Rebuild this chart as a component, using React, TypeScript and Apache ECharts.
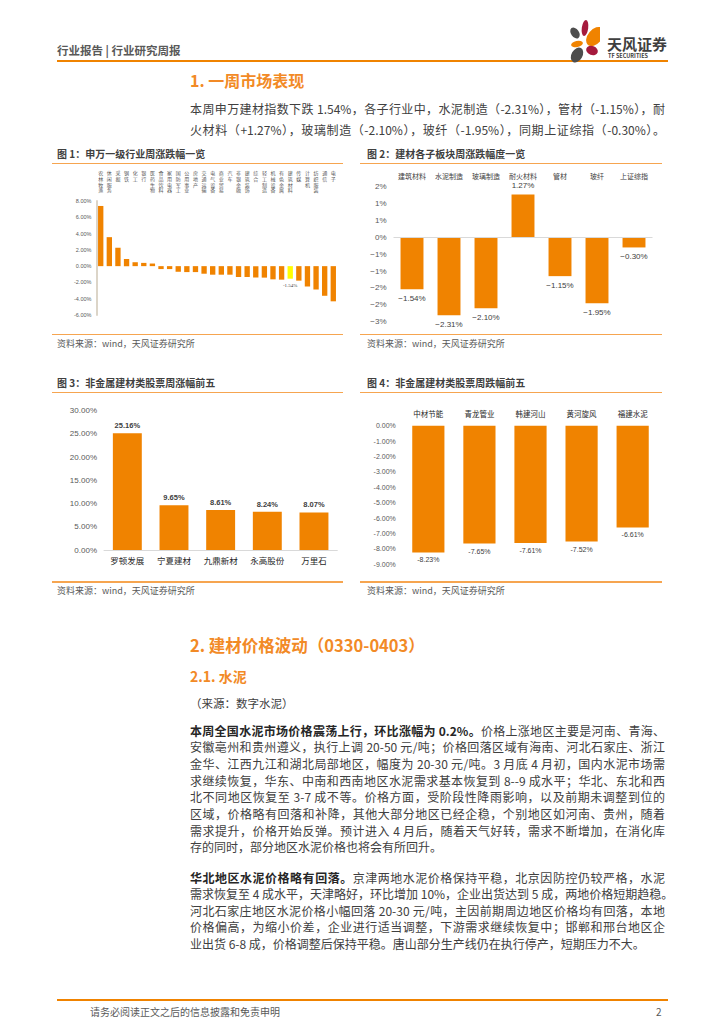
import React, { useEffect, useRef } from "react";
import * as echarts from "echarts";

// ---------- DATA ----------
const fig1Categories = [
  "农林牧渔", "休闲服务", "采掘", "钢铁", "化工", "银行", "医药生物", "食品饮料",
  "家用电器", "国防军工", "公用事业", "房地产", "交通运输", "电气设备", "商业贸易", "汽车",
  "非银金融", "建筑装饰", "综合", "轻工制造", "机械设备", "有色金属", "建筑材料", "传媒",
  "计算机", "纺织服装", "通信", "电子",
];
const fig1Values = [
  7.39, 3.56, 2.26, 0.89, 0.48, 0.4, 0.32, -0.36,
  -0.36, -0.69, -0.73, -0.73, -0.93, -1.05, -1.05, -1.05,
  -1.33, -1.33, -1.41, -1.41, -1.62, -1.66, -1.54, -1.78,
  -2.5, -2.87, -3.64, -4.32,
];
const fig1Highlight = "建筑材料";
const fig1Ticks = { min: -6, max: 8, interval: 2 };

const fig2Categories = ["建筑材料", "水泥制造", "玻璃制造", "耐火材料", "管材", "玻纤", "上证综指"];
const fig2Values = [-1.54, -2.31, -2.1, 1.27, -1.15, -1.95, -0.3];
const fig2Ticks = { min: -2.5, max: 1.5, interval: 0.5 };

const fig3Categories = ["罗顿发展", "宁夏建材", "九鼎新材", "永高股份", "万里石"];
const fig3Values = [25.16, 9.65, 8.61, 8.24, 8.07];
const fig3Ticks = { min: 0, max: 30, interval: 5 };

const fig4Categories = ["中材节能", "青龙管业", "韩建河山", "黄河旋风", "福建水泥"];
const fig4Values = [-8.23, -7.65, -7.61, -7.52, -6.61];
const fig4Ticks = { min: -9, max: 0, interval: 1 };

// ---------- TEXT ----------
const para1Lines = [
  "本周申万建材指数下跌 1.54%，各子行业中，水泥制造（-2.31%），管材（-1.15%），耐",
  "火材料（+1.27%），玻璃制造（-2.10%），玻纤（-1.95%），同期上证综指（-0.30%）。",
];
const cementP1Bold = "本周全国水泥市场价格震荡上行，环比涨幅为 0.2%。";
const cementP1Lines = [
  "价格上涨地区主要是河南、青海、",
  "安徽亳州和贵州遵义，执行上调 20-50 元/吨；价格回落区域有海南、河北石家庄、浙江",
  "金华、江西九江和湖北局部地区，幅度为 20-30 元/吨。3 月底 4 月初，国内水泥市场需",
  "求继续恢复，华东、中南和西南地区水泥需求基本恢复到 8--9 成水平；华北、东北和西",
  "北不同地区恢复至 3-7 成不等。价格方面，受阶段性降雨影响，以及前期未调整到位的",
  "区域，价格略有回落和补降，其他大部分地区已经企稳，个别地区如河南、贵州，随着",
  "需求提升，价格开始反弹。预计进入 4 月后，随着天气好转，需求不断增加，在消化库",
  "存的同时，部分地区水泥价格也将会有所回升。",
];
const cementP2Bold = "华北地区水泥价格略有回落。";
const cementP2Lines = [
  "京津两地水泥价格保持平稳，北京因防控仍较严格，水泥",
  "需求恢复至 4 成水平，天津略好，环比增加 10%，企业出货达到 5 成，两地价格短期趋稳。",
  "河北石家庄地区水泥价格小幅回落 20-30 元/吨，主因前期周边地区价格均有回落，本地",
  "价格偏高，为缩小价差，企业进行适当调整，下游需求继续恢复中；邯郸和邢台地区企",
  "业出货 6-8 成，价格调整后保持平稳。唐山部分生产线仍在执行停产，短期压力不大。",
];

const ORANGE = "#F08300";
const LIGHT_ORANGE = "#F6A550";
const HEAD_ORANGE = "#F28A26";
const TEXT = "#404040";
const CJK = '"Noto Sans CJK SC", "Noto Sans", sans-serif';
const CHART_FONT = '"Liberation Sans", Arial, "Noto Sans CJK SC", sans-serif';

const pct2 = (v: number) => v.toFixed(2) + "%";
const minus = (v: number) => (v < 0 ? "\u2212" : "");

function Txt(props: {
  x: number; y: number; size: number; text?: string; bold?: boolean; color?: string;
  width?: number; justify?: boolean; children?: any; lh?: number;
}) {
  const lh = props.lh ?? Math.round(props.size * 1.4);
  return (
    <div
      style={{
        position: "absolute",
        left: props.x,
        top: props.y - lh / 2,
        height: lh,
        lineHeight: lh + "px",
        fontSize: props.size,
        fontWeight: props.bold ? 700 : 400,
        color: props.color ?? TEXT,
        fontFamily: CJK,
        width: props.width,
        whiteSpace: "nowrap",
        textAlign: props.justify ? "justify" : "left",
        textAlignLast: props.justify ? "justify" : "auto",
        zIndex: 2,
      } as any}
    >
      {props.children ?? props.text}
    </div>
  );
}

function HLine(props: { x: number; y: number; w: number; h: number; color: string }) {
  return (
    <div
      style={{
        position: "absolute", left: props.x, top: props.y, width: props.w, height: props.h,
        background: props.color, zIndex: 2,
      }}
    />
  );
}

export default function App() {
  const ref = useRef<HTMLDivElement>(null);

  useEffect(() => {
    if (!ref.current) return;
    const chart = echarts.init(ref.current, undefined, { renderer: "svg" });

    const fig1Data = fig1Values.map((v, i) => {
      const hl = fig1Categories[i] === fig1Highlight;
      return {
        value: v,
        itemStyle: { color: hl ? "#FFFF00" : ORANGE },
        label: hl
          ? { show: true, position: "bottom", distance: 4, fontSize: 5, color: "#404040", fontFamily: "serif", formatter: (p: any) => pct2(p.value) }
          : { show: false },
      };
    });

    const fig2Data = fig2Values.map((v) => ({
      value: v,
      label: {
        show: true,
        position: v < 0 ? "bottom" : "top",
        distance: 5,
        fontSize: 8,
        color: "#404040",
        formatter: (p: any) => minus(p.value) + Math.abs(p.value).toFixed(2) + "%",
      },
    }));

    const option: any = {
      animation: false,
      textStyle: { fontFamily: CHART_FONT },
      grid: [
        { left: 96.4, top: 201, width: 241.2, height: 114 },
        { left: 393.5, top: 186.7, width: 259, height: 135 },
        { left: 104, top: 410.7, width: 233.3, height: 139.3 },
        { left: 402.8, top: 425.7, width: 255.4, height: 138.6 },
      ],
      xAxis: [
        {
          type: "category", gridIndex: 0, data: fig1Categories, position: "top",
          axisLine: { show: false }, axisTick: { show: false },
          axisLabel: {
            interval: 0, fontSize: 5, lineHeight: 5.8, color: "#595959", verticalAlign: "top", margin: 31,
            formatter: (v: string) => v.split("").join("\n"),
          },
        },
        {
          type: "category", gridIndex: 1, data: fig2Categories, position: "top",
          axisLine: { show: false }, axisTick: { show: false },
          axisLabel: { interval: 0, fontSize: 7, color: "#404040", margin: 7 },
        },
        {
          type: "category", gridIndex: 2, data: fig3Categories, position: "bottom",
          axisLine: { show: true, lineStyle: { color: "#D9D9D9", width: 1 } }, axisTick: { show: false },
          axisLabel: { interval: 0, fontSize: 8.5, color: "#262626", margin: 7 },
        },
        {
          type: "category", gridIndex: 3, data: fig4Categories, position: "top",
          axisLine: { show: false }, axisTick: { show: false },
          axisLabel: { interval: 0, fontSize: 7.5, color: "#262626", margin: 7 },
        },
      ],
      yAxis: [
        {
          type: "value", gridIndex: 0, ...fig1Ticks,
          axisLine: { show: true, lineStyle: { color: "#DCD5C8", width: 2 } },
          axisTick: { show: false }, splitLine: { show: false },
          axisLabel: { fontSize: 5.5, color: "#595959", margin: 5, formatter: (v: number) => pct2(v) },
        },
        {
          type: "value", gridIndex: 1, ...fig2Ticks,
          axisLine: { show: false }, axisTick: { show: false }, splitLine: { show: false },
          axisLabel: {
            fontSize: 8, color: "#595959", margin: 7,
            formatter: (v: number) => {
              const r = Math.round(Math.abs(v) + 1e-9);
              return (v < 0 && r !== 0 ? "\u2212" : "") + r + "%";
            },
          },
        },
        {
          type: "value", gridIndex: 2, ...fig3Ticks,
          axisLine: { show: false }, axisTick: { show: false }, splitLine: { show: false },
          axisLabel: { fontSize: 8, color: "#595959", margin: 7, formatter: (v: number) => pct2(v) },
        },
        {
          type: "value", gridIndex: 3, ...fig4Ticks,
          axisLine: { show: false }, axisTick: { show: false }, splitLine: { show: false },
          axisLabel: { fontSize: 7, color: "#595959", margin: 7, formatter: (v: number) => pct2(v) },
        },
      ],
      series: [
        {
          type: "bar", xAxisIndex: 0, yAxisIndex: 0, data: fig1Data, barWidth: "62%",
        },
        {
          type: "bar", xAxisIndex: 1, yAxisIndex: 1, data: fig2Data, barWidth: "62%",
          itemStyle: { color: ORANGE },
          markLine: {
            silent: true, symbol: "none", label: { show: false },
            lineStyle: { color: "#D9D9D9", type: "solid", width: 1 },
            data: [{ yAxis: 0 }],
          },
        },
        {
          type: "bar", xAxisIndex: 2, yAxisIndex: 2, data: fig3Values, barWidth: "62%",
          itemStyle: { color: ORANGE },
          label: {
            show: true, position: "top", distance: 4, fontSize: 7.5, fontWeight: "bold", color: "#404040",
            formatter: (p: any) => pct2(p.value),
          },
        },
        {
          type: "bar", xAxisIndex: 3, yAxisIndex: 3, data: fig4Values, barWidth: "63%",
          itemStyle: { color: ORANGE },
          label: {
            show: true, position: "bottom", distance: 4, fontSize: 7, color: "#404040",
            formatter: (p: any) => pct2(p.value),
          },
        },
      ],
    };
    chart.setOption(option);
    return () => chart.dispose();
  }, []);

  return (
    <div style={{ position: "absolute", left: 0, top: 0, width: 724, height: 1024, background: "#fff", overflow: "hidden" }}>
      <div ref={ref} style={{ position: "absolute", left: 0, top: 0, width: 724, height: 1024, zIndex: 1 }} />

      {/* header */}
      <Txt x={57} y={50} size={11.5} bold color="#595959" text="行业报告 | 行业研究周报" />
      <HLine x={57} y={60} w={611} h={2} color={ORANGE} />
      <svg style={{ position: "absolute", left: 560, top: 14, zIndex: 2 }} width={40} height={52} viewBox="560 14 40 52">
        <ellipse cx={575} cy={33} rx={4} ry={6} fill="#4D4D4D" transform="rotate(-35 575 33)" />
        <ellipse cx={585} cy={28} rx={3.2} ry={8} fill="#A51A3D" transform="rotate(8 585 28)" />
        <ellipse cx={595} cy={36.5} rx={7} ry={11} fill={ORANGE} transform="rotate(40 595 36.5)" />
        <ellipse cx={577} cy={44} rx={6} ry={3} fill={ORANGE} transform="rotate(-12 577 44)" />
        <ellipse cx={592} cy={50.5} rx={6} ry={4.5} fill="#A51A3D" transform="rotate(20 592 50.5)" />
        <ellipse cx={577} cy={55} rx={5.5} ry={8} fill="#4D4D4D" transform="rotate(30 577 55)" />
      </svg>
      <Txt x={607} y={43} size={15} bold color="#3F3F3F" text="天风证券" />
      <Txt x={608} y={56} size={5.5} bold color="#3F3F3F" lh={7} text="TF SECURITIES" />

      {/* section 1 */}
      <Txt x={190} y={80} size={16} bold color={HEAD_ORANGE} text="1. 一周市场表现" />
      {para1Lines.map((t, i) => (
        <Txt key={"p1" + i} x={190} y={108.5 + i * 20.5} size={12} width={475} justify text={t} />
      ))}

      {/* figure titles / frames */}
      <Txt x={57} y={154} size={10} bold color={TEXT} text="图 1：申万一级行业周涨跌幅一览" />
      <Txt x={367} y={154} size={10} bold color={TEXT} text="图 2：建材各子板块周涨跌幅度一览" />
      <HLine x={52} y={162.5} w={291} h={1.5} color={LIGHT_ORANGE} />
      <HLine x={360} y={162.5} w={302} h={1.5} color={LIGHT_ORANGE} />
      <HLine x={52} y={333.5} w={291} h={1.5} color={LIGHT_ORANGE} />
      <HLine x={360} y={333.5} w={302} h={1.5} color={LIGHT_ORANGE} />
      <Txt x={57} y={343} size={9} color="#595959" text="资料来源：wind，天风证券研究所" />
      <Txt x={367} y={343} size={9} color="#595959" text="资料来源：wind，天风证券研究所" />

      <Txt x={57} y={382.5} size={10} bold color={TEXT} text="图 3：非金属建材类股票周涨幅前五" />
      <Txt x={367} y={382.5} size={10} bold color={TEXT} text="图 4：非金属建材类股票周跌幅前五" />
      <HLine x={52} y={391.5} w={291} h={1.5} color={LIGHT_ORANGE} />
      <HLine x={360} y={391.5} w={302} h={1.5} color={LIGHT_ORANGE} />
      <HLine x={52} y={581} w={291} h={1.5} color={LIGHT_ORANGE} />
      <HLine x={360} y={581} w={302} h={1.5} color={LIGHT_ORANGE} />
      <Txt x={57} y={590} size={9} color="#595959" text="资料来源：wind，天风证券研究所" />
      <Txt x={367} y={590} size={9} color="#595959" text="资料来源：wind，天风证券研究所" />

      {/* section 2 */}
      <Txt x={190} y={645} size={16.5} bold color={HEAD_ORANGE} text="2. 建材价格波动（0330-0403）" />
      <Txt x={190} y={676} size={14} bold color={HEAD_ORANGE} text="2.1. 水泥" />
      <Txt x={190} y={703} size={11.5} color={TEXT} text="（来源：数字水泥）" />
      {cementP1Lines.map((t, i) => (
        <Txt key={"c1" + i} x={190} y={730 + i * 16.7} size={12} width={475} justify={i < cementP1Lines.length - 1}>
          {i === 0 ? (
            <>
              <span style={{ fontWeight: 700, color: "#262626" }}>{cementP1Bold}</span>
              {t}
            </>
          ) : t}
        </Txt>
      ))}
      {cementP2Lines.map((t, i) => (
        <Txt key={"c2" + i} x={190} y={877 + i * 16.6} size={12} width={i === 1 ? 478 : 475} justify={i < cementP2Lines.length - 1}>
          {i === 0 ? (
            <>
              <span style={{ fontWeight: 700, color: "#262626" }}>{cementP2Bold}</span>
              {t}
            </>
          ) : t}
        </Txt>
      ))}

      {/* footer */}
      <HLine x={57} y={999} w={611} h={1.5} color={ORANGE} />
      <Txt x={90} y={1012} size={10} color="#595959" text="请务必阅读正文之后的信息披露和免责申明" />
      <Txt x={656} y={1012} size={10} color="#595959" text="2" />
    </div>
  );
}
